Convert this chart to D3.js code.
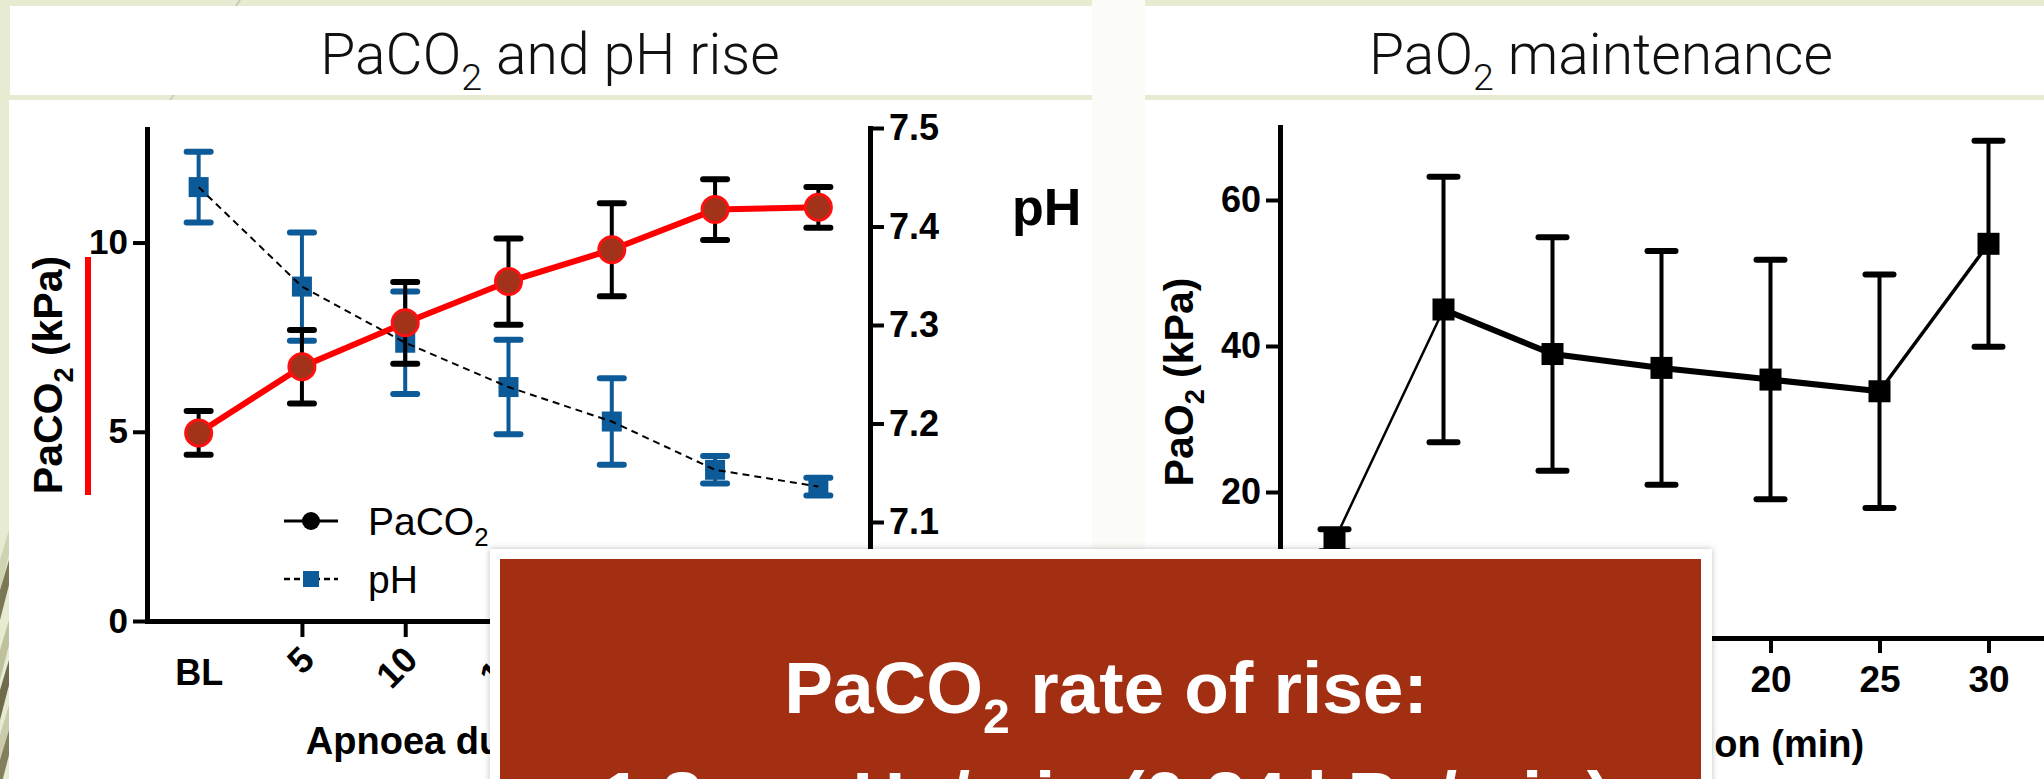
<!DOCTYPE html>
<html>
<head>
<meta charset="utf-8">
<script src="https://cdn.jsdelivr.net/npm/d3@7"></script>
<style>
  body { margin: 0; background: #e6ebd2; }
  svg { display: block; }
</style>
</head>
<body>
<svg id="slide" width="2044" height="779"></svg>
<script>
/////////////////////////////////////
///      DATA
/////////////////////////////////////
const timeLabels = ["BL", "5", "10", "15", "20", "25", "30"];

// PaCO2 (kPa), mean and error
const paco2Mean = [4.97, 6.72, 7.88, 8.97, 9.81, 10.87, 10.93];
const paco2Err  = [0.58, 0.97, 1.08, 1.14, 1.23, 0.80, 0.54];

// pH, mean and error
const phMean = [7.440, 7.339, 7.282, 7.237, 7.202, 7.153, 7.136];
const phErr  = [0.036, 0.055, 0.052, 0.048, 0.044, 0.014, 0.009];

// PaO2 (kPa), mean and error
const pao2Mean = [13.4, 45.0, 38.9, 37.0, 35.4, 33.8, 54.0];
const pao2Err  = [1.5, 18.2, 16.0, 16.0, 16.4, 16.0, 14.1];

const paco2Ticks = [0, 5, 10];
const phTicks    = [7.0, 7.1, 7.2, 7.3, 7.4, 7.5];
const pao2Ticks  = [0, 20, 40, 60];

const legendNames = ["PaCO₂", "pH"];
const titles = ["PaCO₂ and pH rise", "PaO₂ maintenance"];
const yTitles = ["PaCO₂ (kPa)", "PaO₂ (kPa)"];
const xTitle = "Apnoea duration (min)";
const boxLines = ["PaCO₂ rate of rise:", "1.8 mmHg/min (0.24 kPa/min)"];

/////////////////////////////////////
///      HELPERS
/////////////////////////////////////
const FONT = "'Liberation Sans', Arial, Helvetica, sans-serif";
const BLUE = "#0d5a98";

// writes a string, turning "₂" into a lowered small 2
function richText(sel, str, size) {
  const parts = str.split("₂");
  parts.forEach(function(p, i) {
    if (i > 0) {
      sel.append("tspan").attr("dy", size * 0.28)
         .style("font-size", (size * 0.66) + "px").text("2");
    }
    sel.append("tspan").attr("dy", i > 0 ? -size * 0.28 : 0).text(p);
  });
  return sel;
}

function styleAxis(sel, size) {
  sel.attr("font-family", null).attr("font-size", null);
  sel.select(".domain").attr("stroke", "#000").attr("stroke-width", 5)
     .attr("stroke-linecap", "square");
  sel.selectAll(".tick line").attr("stroke", "#000").attr("stroke-width", 4);
  sel.selectAll(".tick text").attr("fill", "#000")
     .style("font", "bold " + size + "px " + FONT);
}

function errorBars(g, x, y, mean, err, color, cap) {
  const eb = g.append("g").attr("stroke", color).attr("stroke-linecap", "round");
  timeLabels.forEach(function(t, i) {
    const cx = x(t), y0 = y(mean[i] - err[i]), y1 = y(mean[i] + err[i]);
    eb.append("line").attr("x1", cx).attr("x2", cx).attr("y1", y0).attr("y2", y1)
      .attr("stroke-width", 4);
    [y0, y1].forEach(function(yy) {
      eb.append("line").attr("x1", cx - cap / 2).attr("x2", cx + cap / 2)
        .attr("y1", yy).attr("y2", yy).attr("stroke-width", 6);
    });
  });
}

const svg = d3.select("#slide");

/////////////////////////////////////
///      SLIDE BACKGROUND
/////////////////////////////////////
svg.append("rect").attr("width", 2044).attr("height", 779).attr("fill", "#e6ebd2");

// streaks on the left edge
const streaks = svg.append("g");
svg.append("clipPath").attr("id", "edge").append("rect")
   .attr("width", 9).attr("height", 779);
streaks.attr("clip-path", "url(#edge)");
[[560, "#cfd3b2"], [590, "#7c7757"], [650, "#bfc19d"], [690, "#6f6a4c"],
 [735, "#c9cbaa"], [760, "#837e5e"]].forEach(function(s) {
  streaks.append("polygon")
    .attr("points", [[0, s[0]], [9, s[0] - 30], [9, s[0] - 5], [0, s[0] + 30]].join(" "))
    .attr("fill", s[1]);
});
svg.append("line").attr("x1", 236).attr("y1", 6).attr("x2", 240).attr("y2", 0)
   .attr("stroke", "#c9ccbb").attr("stroke-width", 2);
svg.append("line").attr("x1", 170).attr("y1", 100).attr("x2", 174).attr("y2", 95)
   .attr("stroke", "#c9ccbb").attr("stroke-width", 2);

// white panels
svg.append("rect").attr("x", 10).attr("y", 6).attr("width", 1082).attr("height", 89).attr("fill", "#fff");
svg.append("rect").attr("x", 9).attr("y", 100).attr("width", 1083).attr("height", 679).attr("fill", "#fff");
svg.append("rect").attr("x", 1092).attr("y", 0).attr("width", 53).attr("height", 779).attr("fill", "#fbfbf8");
svg.append("rect").attr("x", 1145).attr("y", 6).attr("width", 899).attr("height", 89).attr("fill", "#fff");
svg.append("rect").attr("x", 1145).attr("y", 100).attr("width", 899).attr("height", 679).attr("fill", "#fff");

// titles
[[550, titles[0]], [1601, titles[1]]].forEach(function(t) {
  richText(svg.append("text").attr("x", t[0]).attr("y", 74).attr("text-anchor", "middle")
    .style("font", "300 57px Roboto, " + FONT).attr("fill", "#111"), t[1], 57);
});

/////////////////////////////////////
///      LEFT CHART: PaCO2 and pH
/////////////////////////////////////
const gL = svg.append("g");
const xL = d3.scalePoint().domain(timeLabels).range([147, 870]).padding(0.5);
const yCO2 = d3.scaleLinear().domain([0, 13]).range([621, 129]);
const yPH = d3.scaleLinear().domain([7.0, 7.5]).range([620.5, 128]);

const axL = gL.append("g").attr("transform", "translate(147,0)")
  .call(d3.axisLeft(yCO2).tickValues(paco2Ticks).tickSize(14).tickSizeOuter(0).tickPadding(5));
styleAxis(axL, 35);

const axPH = gL.append("g").attr("transform", "translate(870,0)")
  .call(d3.axisRight(yPH).tickValues(phTicks).tickSize(14).tickSizeOuter(0)
        .tickPadding(5).tickFormat(d3.format(".1f")));
styleAxis(axPH, 36);

const axXL = gL.append("g").attr("transform", "translate(0,621)")
  .call(d3.axisBottom(xL).tickSize(16).tickSizeOuter(0));
styleAxis(axXL, 36);
axXL.selectAll(".tick").filter(function(d) { return d === "BL"; }).select("line").remove();
axXL.selectAll(".tick text").each(function(d) {
  const t = d3.select(this);
  if (d === "BL") {
    t.attr("y", 64).attr("dy", 0);
  } else {
    t.attr("y", 0).attr("dy", "0.35em").attr("text-anchor", "end")
     .attr("transform", "translate(5,32) rotate(-45)");
  }
});

// axis titles
richText(gL.append("text").attr("transform", "translate(62,375) rotate(-90)")
  .attr("text-anchor", "middle").style("font", "bold 41px " + FONT), yTitles[0], 41);
gL.append("line").attr("x1", 88).attr("x2", 88).attr("y1", 257).attr("y2", 495)
  .attr("stroke", "#ff0000").attr("stroke-width", 6);
gL.append("text").attr("x", 1012).attr("y", 225)
  .style("font", "bold 52px " + FONT).text("pH");
gL.append("text").attr("x", (xL("BL") + xL("30")) / 2).attr("y", 754).attr("text-anchor", "middle")
  .style("font", "bold 38px " + FONT).text(xTitle);

// pH series (blue, dashed)
errorBars(gL, xL, yPH, phMean, phErr, BLUE, 24);
gL.append("g").selectAll("rect").data(phMean).join("rect")
  .attr("x", function(d, i) { return xL(timeLabels[i]) - 10; })
  .attr("y", function(d) { return yPH(d) - 10; })
  .attr("width", 20).attr("height", 20).attr("fill", BLUE);
gL.append("path").datum(phMean)
  .attr("d", d3.line().x(function(d, i) { return xL(timeLabels[i]); }).y(function(d) { return yPH(d); }))
  .attr("fill", "none").attr("stroke", "#000").attr("stroke-width", 2)
  .attr("stroke-dasharray", "7,5");

// PaCO2 series (black error bars, red line and circles)
errorBars(gL, xL, yCO2, paco2Mean, paco2Err, "#000", 24);
gL.append("path").datum(paco2Mean)
  .attr("d", d3.line().x(function(d, i) { return xL(timeLabels[i]); }).y(function(d) { return yCO2(d); }))
  .attr("fill", "none").attr("stroke", "#ff0000").attr("stroke-width", 6);
gL.append("g").selectAll("circle").data(paco2Mean).join("circle")
  .attr("cx", function(d, i) { return xL(timeLabels[i]); })
  .attr("cy", function(d) { return yCO2(d); })
  .attr("r", 13).attr("fill", "#a3321b").attr("stroke", "#ff1010").attr("stroke-width", 3);

// legend
const leg = gL.append("g").attr("transform", "translate(284,0)");
leg.append("line").attr("x1", 0).attr("x2", 54).attr("y1", 521).attr("y2", 521)
   .attr("stroke", "#000").attr("stroke-width", 3);
leg.append("circle").attr("cx", 27).attr("cy", 521).attr("r", 9).attr("fill", "#000");
leg.append("line").attr("x1", 0).attr("x2", 54).attr("y1", 579).attr("y2", 579)
   .attr("stroke", "#000").attr("stroke-width", 2.5).attr("stroke-dasharray", "6,4");
leg.append("rect").attr("x", 19).attr("y", 571).attr("width", 16).attr("height", 16).attr("fill", BLUE);
legendNames.forEach(function(n, i) {
  richText(leg.append("text").attr("x", 84).attr("y", 535 + i * 58)
    .style("font", "39px " + FONT), n, 39);
});

/////////////////////////////////////
///      RIGHT CHART: PaO2
/////////////////////////////////////
const gR = svg.append("g");
const xR = d3.scalePoint().domain(timeLabels).range([1280, 2043]).padding(0.5);
const yO2 = d3.scaleLinear().domain([0, 70]).range([638, 127]);

const axR = gR.append("g").attr("transform", "translate(1280,0)")
  .call(d3.axisLeft(yO2).tickValues(pao2Ticks).tickSize(14).tickSizeOuter(0).tickPadding(5));
styleAxis(axR, 36);

const axXR = gR.append("g").attr("transform", "translate(0,638)")
  .call(d3.axisBottom(xR).tickSize(15).tickSizeOuter(0));
styleAxis(axXR, 37);
axXR.selectAll(".tick text").attr("y", 54).attr("dy", 0);

richText(gR.append("text").attr("transform", "translate(1193,382) rotate(-90)")
  .attr("text-anchor", "middle").style("font", "bold 41px " + FONT), yTitles[1], 41);
gR.append("text").attr("x", (xR("BL") + xR("30")) / 2).attr("y", 757).attr("text-anchor", "middle")
  .style("font", "bold 38px " + FONT).text(xTitle);

errorBars(gR, xR, yO2, pao2Mean, pao2Err, "#000", 28);
d3.pairs(pao2Mean.map(function(d, i) { return [xR(timeLabels[i]), yO2(d)]; }))
  .forEach(function(p, i, all) {
    gR.append("line").attr("x1", p[0][0]).attr("y1", p[0][1]).attr("x2", p[1][0]).attr("y2", p[1][1])
      .attr("stroke", "#000")
      .attr("stroke-width", i === 0 ? 2.5 : (i === all.length - 1 ? 3.5 : 6));
  });
gR.append("g").selectAll("rect").data(pao2Mean).join("rect")
  .attr("x", function(d, i) { return xR(timeLabels[i]) - 11; })
  .attr("y", function(d) { return yO2(d) - 11; })
  .attr("width", 22).attr("height", 22).attr("fill", "#000");

/////////////////////////////////////
///      OVERLAY BOX
/////////////////////////////////////
const defs = svg.append("defs");
defs.append("filter").attr("id", "shadow").attr("x", "-5%").attr("y", "-10%")
  .attr("width", "110%").attr("height", "130%")
  .append("feDropShadow").attr("dx", 0).attr("dy", 0).attr("stdDeviation", 3)
  .attr("flood-color", "#000").attr("flood-opacity", 0.25);
svg.append("rect").attr("x", 490).attr("y", 549).attr("width", 1222).attr("height", 260)
  .attr("fill", "#fff").attr("filter", "url(#shadow)");
svg.append("rect").attr("x", 500).attr("y", 559).attr("width", 1201).attr("height", 240)
  .attr("fill", "#a32f12");
boxLines.forEach(function(line, i) {
  richText(svg.append("text").attr("x", 1106).attr("y", 713 + i * 110).attr("text-anchor", "middle")
    .attr("fill", "#fff").style("font", "bold 73px " + FONT), line, 73);
});
</script>
</body>
</html>
